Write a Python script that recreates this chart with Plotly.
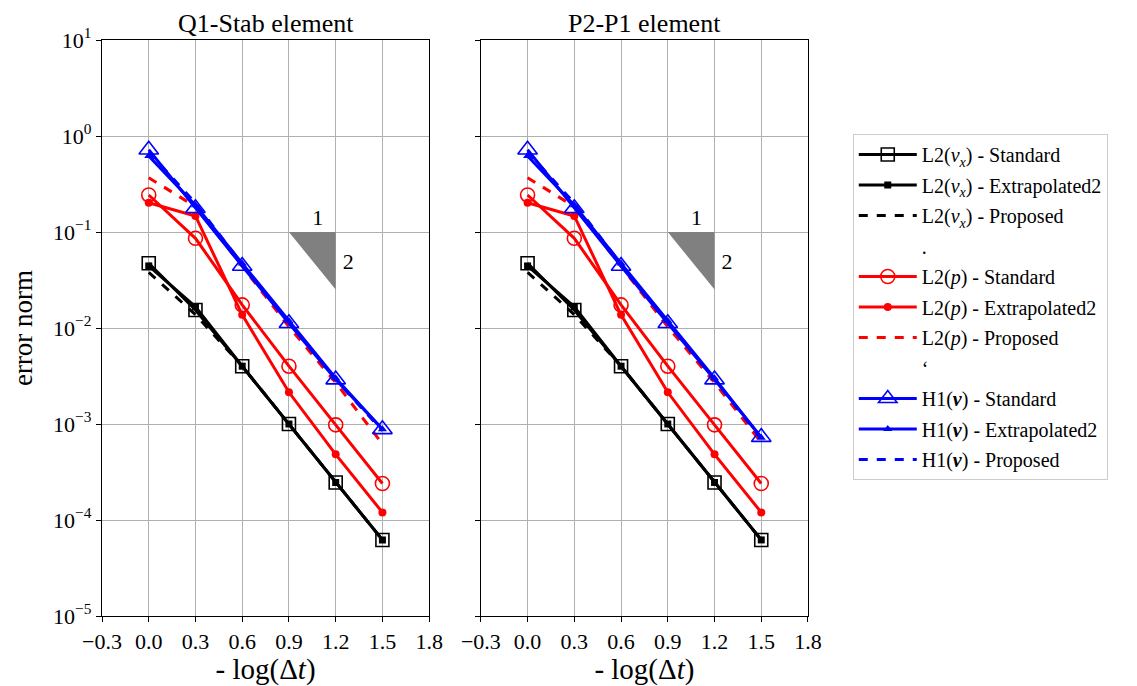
import plotly.graph_objects as go

# ---------------- data ----------------
x_vals = [0.0, 0.3, 0.6, 0.9, 1.2, 1.5]

# Q1-Stab element
q1_vx_std = [0.0472, 0.0154, 0.0040, 0.00100, 0.000246, 6.2e-5]
q1_vx_ext = [0.0443, 0.0166, 0.0040, 0.00100, 0.000246, 6.2e-5]
q1_vx_prop = [0.038, 0.0138, 0.0040, 0.00100, 0.000246, 6.2e-5]
q1_p_std = [0.243, 0.086, 0.0174, 0.0040, 0.00098, 0.00024]
q1_p_ext = [0.202, 0.147, 0.0137, 0.00214, 0.000483, 0.000120]
q1_p_prop = [0.368, 0.184, 0.044, 0.0103, 0.0027, 0.00062]
q1_v_std = [0.72, 0.177, 0.0443, 0.0112, 0.0029, 0.00088]
q1_v_ext = [0.62, 0.19, 0.047, 0.0118, 0.0030, 0.00088]
q1_v_prop = [0.68, 0.20, 0.046, 0.0115, 0.0029, 0.00085]

# P2-P1 element
p2_vx_std = [0.0472, 0.0154, 0.0040, 0.00100, 0.000246, 6.2e-5]
p2_vx_ext = [0.0443, 0.0166, 0.0040, 0.00100, 0.000246, 6.2e-5]
p2_vx_prop = [0.038, 0.0138, 0.0040, 0.00100, 0.000246, 6.2e-5]
p2_p_std = [0.243, 0.086, 0.0174, 0.0040, 0.00098, 0.00024]
p2_p_ext = [0.202, 0.147, 0.0137, 0.00214, 0.000483, 0.000120]
p2_p_prop = [0.368, 0.184, 0.044, 0.0103, 0.0027, 0.00064]
p2_v_std = [0.72, 0.177, 0.0443, 0.0112, 0.0029, 0.00073]
p2_v_ext = [0.62, 0.19, 0.047, 0.0118, 0.0030, 0.00072]
p2_v_prop = [0.68, 0.20, 0.046, 0.0115, 0.0029, 0.00070]

# slope triangle (order 2) and its labels
slope_x = [0.9, 1.2, 1.2, 0.9]
slope_y = [0.1, 0.1, 0.1 / 10 ** 0.6, 0.1]
slope_lbl_x = [1.085, 1.28]
slope_lbl_y = [0.135, 0.047]
slope_lbl = ["1", "2"]

x_ticks = [-0.3, 0.0, 0.3, 0.6, 0.9, 1.2, 1.5, 1.8]
x_tick_text = ["−0.3", "0.0", "0.3", "0.6", "0.9", "1.2", "1.5", "1.8"]
y_ticks = [1e-5, 1e-4, 1e-3, 1e-2, 1e-1, 1e0, 1e1]
y_tick_text = ["10<sup>−5</sup>", "10<sup>−4</sup>", "10<sup>−3</sup>", "10<sup>−2</sup>",
               "10<sup>−1</sup>", "10<sup>0</sup>", "10<sup>1</sup>"]
titles = ["Q1-Stab element", "P2-P1 element"]

FONT = "Liberation Serif"
VX = "L2(<i>v</i><sub><i>x</i></sub>)"
P = "L2(<i>p</i>)"
V = "H1(<b><i>v</i></b>)"

panels = [
    (q1_vx_std, q1_vx_ext, q1_vx_prop, q1_p_std, q1_p_ext, q1_p_prop, q1_v_std, q1_v_ext, q1_v_prop),
    (p2_vx_std, p2_vx_ext, p2_vx_prop, p2_p_std, p2_p_ext, p2_p_prop, p2_v_std, p2_v_ext, p2_v_prop),
]

fig = go.Figure()

LW = 3
for i, d in enumerate(panels):
    xa = "x" if i == 0 else "x2"
    ya = "y" if i == 0 else "y2"
    show = i == 0
    groups = [
        ("black", VX, d[0], d[1], d[2], "square-open", 13, "square", 7),
        ("red", P, d[3], d[4], d[5], "circle-open", 14, "circle", 8),
        ("blue", V, d[6], d[7], d[8], "triangle-up-open", 17, "triangle-up", 8),
    ]
    spacers = [".", "‘", None]
    for gi, (col, lab, s, e, pr, osym, osz, fsym, fsz) in enumerate(groups):
        fig.add_trace(go.Scatter(
            x=x_vals, y=s, xaxis=xa, yaxis=ya, mode="lines+markers",
            line=dict(color=col, width=LW),
            marker=dict(symbol=osym, size=osz, color=col, line=dict(width=1.6, color=col)),
            name=f"{lab} - Standard", showlegend=show, legendgroup=f"{gi}a"))
        fig.add_trace(go.Scatter(
            x=x_vals, y=e, xaxis=xa, yaxis=ya, mode="lines+markers",
            line=dict(color=col, width=LW),
            marker=dict(symbol=fsym, size=fsz, color=col),
            name=f"{lab} - Extrapolated2", showlegend=show, legendgroup=f"{gi}b"))
        fig.add_trace(go.Scatter(
            x=x_vals, y=pr, xaxis=xa, yaxis=ya, mode="lines",
            line=dict(color=col, width=LW, dash="dash"),
            name=f"{lab} - Proposed", showlegend=show, legendgroup=f"{gi}c"))
        if spacers[gi] is not None and show:
            fig.add_trace(go.Scatter(
                x=[None], y=[None], xaxis=xa, yaxis=ya, mode="lines",
                line=dict(color="rgba(0,0,0,0)", width=0),
                name=spacers[gi], showlegend=True, legendgroup=f"{gi}d"))
    # slope triangle
    fig.add_trace(go.Scatter(
        x=slope_x, y=slope_y, xaxis=xa, yaxis=ya, mode="lines", fill="toself",
        fillcolor="#808080", line=dict(width=0, color="#808080"),
        showlegend=False, hoverinfo="skip"))
    fig.add_trace(go.Scatter(
        x=slope_lbl_x, y=slope_lbl_y, xaxis=xa, yaxis=ya, mode="text",
        text=slope_lbl, textfont=dict(family=FONT, size=22, color="black"),
        showlegend=False, hoverinfo="skip"))

axis_common = dict(
    showline=True, linecolor="black", linewidth=1.2, mirror=True,
    ticks="outside", ticklen=5, tickcolor="black", tickwidth=1.2,
    showgrid=True, gridcolor="#b0b0b0", gridwidth=1, zeroline=False,
    tickfont=dict(family=FONT, size=22, color="black"),
)

fig.update_layout(
    width=1137, height=686,
    margin=dict(l=90, r=337, t=32, b=78),
    plot_bgcolor="white", paper_bgcolor="white",
    font=dict(family=FONT, color="black"),
    xaxis=dict(domain=[0, 0.4634], range=[-0.3, 1.8], tickvals=x_ticks, ticktext=x_tick_text,
               title=dict(text="- log(Δ<i>t</i>)", font=dict(family=FONT, size=29), standoff=0),
               **axis_common),
    xaxis2=dict(domain=[0.5366, 1], range=[-0.3, 1.8], tickvals=x_ticks, ticktext=x_tick_text,
                title=dict(text="- log(Δ<i>t</i>)", font=dict(family=FONT, size=29), standoff=0),
                anchor="y2", **axis_common),
    yaxis=dict(type="log", range=[-5, 1], tickvals=y_ticks, ticktext=y_tick_text,
               title=dict(text="error norm", font=dict(family=FONT, size=27), standoff=14),
               **axis_common),
    yaxis2=dict(type="log", range=[-5, 1], tickvals=y_ticks, ticktext=y_tick_text,
                showticklabels=False, anchor="x2", **axis_common),
    legend=dict(
        x=1.0634, y=0.8368, xanchor="left", yanchor="top",
        bgcolor="white", bordercolor="#cccccc", borderwidth=1,
        font=dict(family=FONT, size=20, color="black"),
        itemwidth=58, tracegroupgap=1.5, traceorder="grouped",
    ),
    annotations=[
        dict(text=titles[0], x=0.2317, y=1.0, xref="paper", yref="paper",
             xanchor="center", yanchor="bottom", yshift=0, showarrow=False,
             font=dict(family=FONT, size=26, color="black")),
        dict(text=titles[1], x=0.7683, y=1.0, xref="paper", yref="paper",
             xanchor="center", yanchor="bottom", yshift=0, showarrow=False,
             font=dict(family=FONT, size=26, color="black")),
    ],
)

fig.write_html("out.html")
